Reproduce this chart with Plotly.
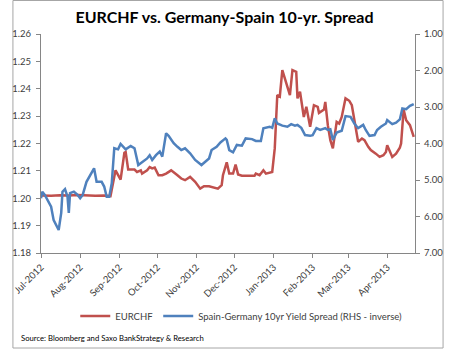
import plotly.graph_objects as go

# EURCHF (left axis)
eurchf_dates = [
    "2012-07-01", "2012-07-09", "2012-07-16", "2012-07-23", "2012-07-30", "2012-08-06",
    "2012-08-13", "2012-08-20", "2012-08-25", "2012-08-29", "2012-09-02", "2012-09-05",
    "2012-09-06", "2012-09-08", "2012-09-13", "2012-09-15", "2012-09-18", "2012-09-19",
    "2012-09-23", "2012-09-25", "2012-09-27", "2012-09-29", "2012-10-02", "2012-10-05",
    "2012-10-08", "2012-10-12", "2012-10-14", "2012-10-17", "2012-10-20", "2012-10-23",
    "2012-10-27", "2012-10-31", "2012-11-04", "2012-11-07", "2012-11-11", "2012-11-15",
    "2012-11-18", "2012-11-21", "2012-11-22", "2012-11-25", "2012-11-27", "2012-11-30",
    "2012-12-02", "2012-12-04", "2012-12-07", "2012-12-12", "2012-12-17", "2012-12-18",
    "2012-12-21", "2012-12-24", "2012-12-26", "2012-12-31", "2013-01-02", "2013-01-04",
    "2013-01-06", "2013-01-08", "2013-01-11", "2013-01-14", "2013-01-16", "2013-01-19",
    "2013-01-20", "2013-01-22", "2013-01-25", "2013-01-27", "2013-01-30", "2013-02-01",
    "2013-02-02", "2013-02-05", "2013-02-06", "2013-02-10", "2013-02-11", "2013-02-13",
    "2013-02-15", "2013-02-17", "2013-02-20", "2013-02-22", "2013-02-24", "2013-02-27",
    "2013-03-02", "2013-03-04", "2013-03-07", "2013-03-09", "2013-03-12", "2013-03-14",
    "2013-03-17", "2013-03-19", "2013-03-23", "2013-03-26", "2013-03-29", "2013-03-31",
    "2013-04-01", "2013-04-03", "2013-04-05", "2013-04-08", "2013-04-11", "2013-04-12",
    "2013-04-14", "2013-04-16", "2013-04-19", "2013-04-22",
]
eurchf_values = [
    1.2010, 1.2009, 1.2011, 1.2010, 1.2012, 1.2010,
    1.2009, 1.2010, 1.2008, 1.2102, 1.2068, 1.2166,
    1.2169, 1.2105, 1.2105, 1.2096, 1.2102, 1.2090,
    1.2102, 1.2114, 1.2109, 1.2112, 1.2084, 1.2084,
    1.2090, 1.2102, 1.2096, 1.2084, 1.2072, 1.2066,
    1.2078, 1.2060, 1.2035, 1.2044, 1.2044, 1.2039,
    1.2035, 1.2048, 1.2084, 1.2131, 1.2090, 1.2090,
    1.2123, 1.2087, 1.2082, 1.2082, 1.2082, 1.2090,
    1.2084, 1.2102, 1.2090, 1.2096, 1.2182, 1.2377,
    1.2371, 1.2468, 1.2425, 1.2377, 1.2468, 1.2462,
    1.2365, 1.2389, 1.2297, 1.2334, 1.2261, 1.2322,
    1.2340, 1.2334, 1.2312, 1.2324, 1.2352, 1.2267,
    1.2212, 1.2182, 1.2279, 1.2273, 1.2297, 1.2365,
    1.2356, 1.2340, 1.2267, 1.2206, 1.2218, 1.2212,
    1.2188, 1.2176, 1.2163, 1.2151, 1.2157, 1.2169,
    1.2194, 1.2173, 1.2151, 1.2163, 1.2185, 1.2200,
    1.2324, 1.2285, 1.2267, 1.2224,
]

# Spain-Germany 10yr spread (right axis, inverted)
spread_dates = [
    "2012-07-01", "2012-07-02", "2012-07-04", "2012-07-06", "2012-07-09", "2012-07-11",
    "2012-07-15", "2012-07-17", "2012-07-18", "2012-07-20", "2012-07-22", "2012-07-23",
    "2012-07-24", "2012-07-27", "2012-07-30", "2012-08-01", "2012-08-03", "2012-08-06",
    "2012-08-10", "2012-08-12", "2012-08-14", "2012-08-18", "2012-08-20", "2012-08-22",
    "2012-08-24", "2012-08-26", "2012-08-28", "2012-08-31", "2012-09-02", "2012-09-06",
    "2012-09-10", "2012-09-13", "2012-09-16", "2012-09-20", "2012-09-23", "2012-09-25",
    "2012-09-27", "2012-09-30", "2012-10-03", "2012-10-05", "2012-10-08", "2012-10-10",
    "2012-10-14", "2012-10-17", "2012-10-20", "2012-10-23", "2012-10-27", "2012-10-31",
    "2012-11-05", "2012-11-08", "2012-11-11", "2012-11-13", "2012-11-17", "2012-11-20",
    "2012-11-24", "2012-11-25", "2012-11-27", "2012-11-30", "2012-12-03", "2012-12-07",
    "2012-12-10", "2012-12-15", "2012-12-18", "2012-12-22", "2012-12-24", "2012-12-29",
    "2012-12-31", "2013-01-02", "2013-01-04", "2013-01-08", "2013-01-12", "2013-01-15",
    "2013-01-18", "2013-01-20", "2013-01-23", "2013-01-26", "2013-01-30", "2013-02-01",
    "2013-02-04", "2013-02-07", "2013-02-11", "2013-02-13", "2013-02-15", "2013-02-17",
    "2013-02-20", "2013-02-24", "2013-02-27", "2013-03-03", "2013-03-06", "2013-03-09",
    "2013-03-13", "2013-03-15", "2013-03-18", "2013-03-22", "2013-03-24", "2013-03-27",
    "2013-03-31", "2013-04-01", "2013-04-05", "2013-04-08", "2013-04-11", "2013-04-13",
    "2013-04-16", "2013-04-19", "2013-04-22",
]
spread_values = [
    5.50, 5.32, 5.41, 5.55, 5.73, 6.10,
    6.37, 5.90, 5.32, 5.25, 5.46, 5.90,
    5.36, 5.32, 5.41, 5.50, 5.41, 5.05,
    4.82, 4.68, 5.05, 5.05, 5.18, 5.46,
    5.46, 5.09, 4.13, 4.16, 4.01, 4.16,
    4.07, 4.13, 4.59, 4.50, 4.41, 4.32,
    4.45, 4.32, 4.22, 4.36, 3.72, 3.79,
    3.99, 4.09, 4.18, 4.13, 4.27, 4.45,
    4.59, 4.50, 4.41, 4.18, 4.09, 3.97,
    3.86, 3.90, 4.18, 4.24, 4.04, 4.06,
    3.86, 3.88, 3.93, 3.93, 3.58, 3.54,
    3.57, 3.31, 3.45, 3.51, 3.54, 3.47,
    3.51, 3.49, 3.57, 3.77, 3.79, 3.77,
    3.58, 3.63, 3.58, 3.63, 3.61, 3.90,
    3.70, 3.65, 3.25, 3.27, 3.45, 3.58,
    3.49, 3.63, 3.79, 3.77, 3.63, 3.54,
    3.45, 3.36, 3.47, 3.43, 3.34, 3.04,
    3.06, 2.97, 2.92,
]

title_text = "EURCHF vs. Germany-Spain 10-yr. Spread"
source_text = "Source: Bloomberg and Saxo BankStrategy & Research"
name_eurchf = "EURCHF"
name_spread = "Spain-Germany 10yr Yield Spread (RHS - inverse)"

W, H = 455, 350
ML, MR, MT, MB = 30, 32, 34, 97
PW, PH = W - ML - MR, H - MT - MB

def px_x(x):
    return (x - ML) / PW

def px_y(y):
    return (H - MB - y) / PH

FONT = "Lato, 'Open Sans', Arial, sans-serif"
AX = "#868686"
TXT = "#404040"

fig = go.Figure()
fig.add_trace(go.Scatter(
    x=eurchf_dates, y=eurchf_values, name=name_eurchf, mode="lines",
    line=dict(color="#C0504D", width=2.5), yaxis="y",
))
fig.add_trace(go.Scatter(
    x=spread_dates, y=spread_values, name=name_spread, mode="lines",
    line=dict(color="#4F81BD", width=2.5), yaxis="y2",
))

fig.update_layout(
    width=W, height=H,
    margin=dict(l=ML, r=MR, t=MT, b=MB),
    paper_bgcolor="white", plot_bgcolor="white",
    font=dict(family=FONT, size=9.5, color=TXT),
    title=dict(text="<b>" + title_text + "</b>", x=224.5 / W, xanchor="center",
               y=1 - 17 / H, yanchor="middle", xref="container", yref="container",
               font=dict(family=FONT, size=16, color="#000000")),
    xaxis=dict(
        type="date", range=["2012-07-01", "2013-04-23"],
        tickformat="%b-%Y", dtick="M1", tick0="2012-07-01", tickangle=-45,
        showgrid=False, zeroline=False, showline=True, linecolor=AX, linewidth=1,
        ticks="outside", ticklen=4, tickcolor=AX, tickfont=dict(size=9.5, color=TXT),
    ),
    yaxis=dict(
        range=[1.18, 1.26], dtick=0.01, tickformat=".2f",
        showgrid=False, zeroline=False, showline=True, linecolor=AX, linewidth=1,
        ticks="outside", ticklen=4, tickcolor=AX, tickfont=dict(size=9.5, color=TXT),
        ticklabelstandoff=3,
    ),
    yaxis2=dict(
        range=[7, 1], dtick=1, tickformat=".2f", overlaying="y", side="right",
        showgrid=False, zeroline=False, showline=True, linecolor=AX, linewidth=1,
        ticks="outside", ticklen=4, tickcolor=AX, tickfont=dict(size=9.5, color=TXT),
        ticklabelstandoff=2,
    ),
    showlegend=True,
    legend=dict(
        orientation="h", x=px_x(66), xanchor="left", y=px_y(316), yanchor="middle",
        font=dict(size=9.5, color=TXT), itemwidth=30, bgcolor="rgba(0,0,0,0)",
    ),
    annotations=[dict(
        text=source_text, xref="paper", yref="paper", x=px_x(7), y=px_y(338),
        xanchor="left", yanchor="middle", showarrow=False,
        font=dict(family=FONT, size=7.7, color="#000000"),
    )],
    shapes=[dict(
        type="rect", xref="paper", yref="paper",
        x0=px_x(0.5), x1=px_x(452.5), y0=px_y(348), y1=px_y(0.5),
        line=dict(color="#A6A6A6", width=1), fillcolor="rgba(0,0,0,0)", layer="below",
    )],
)

fig.write_html("out.html")
